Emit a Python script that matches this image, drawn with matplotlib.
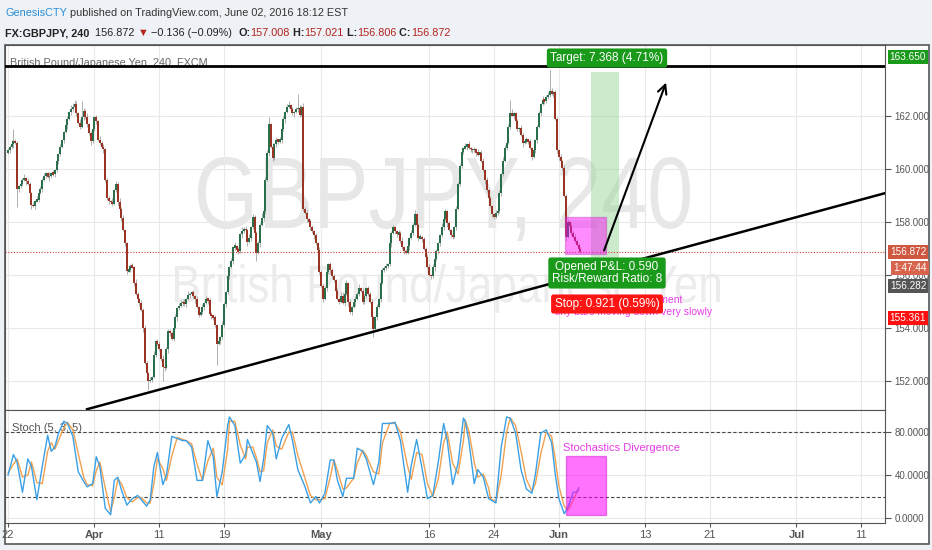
import numpy as np
import matplotlib
matplotlib.use('Agg')
import matplotlib.pyplot as plt
from matplotlib.patches import Rectangle, PathPatch
from matplotlib.textpath import TextPath
from matplotlib.font_manager import FontProperties
from matplotlib.transforms import Affine2D
from matplotlib.ticker import FormatStrFormatter

plt.rcParams['font.family'] = ['Liberation Sans', 'DejaVu Sans']
W, H = 932, 550

# 4h closes, GBPJPY, one row per trading day (Mar 22 .. Jun 2)
open0 = 160.60
close = [
    160.70, 160.85, 160.95, 161.05, 161.00, 159.25,
    159.35, 159.45, 159.60, 159.65, 159.55, 159.45,
    159.10, 158.65, 158.60, 158.80, 158.85, 159.10,
    159.25, 159.60, 159.75, 159.85, 159.70, 159.75,
    159.85, 159.80, 159.95, 160.30, 160.55, 160.85,
    161.10, 161.40, 161.65, 161.90, 162.15, 162.25,
    162.35, 162.45, 162.10, 161.75, 161.60, 161.95,
    162.20, 161.95, 161.70, 161.35, 161.05, 161.50,
    161.95, 161.80, 161.10, 161.00, 160.85, 160.75,
    159.60, 158.90, 158.80, 158.75, 158.70, 159.20,
    159.45, 158.75, 158.50, 158.15, 157.70, 157.20,
    156.15, 156.20, 156.35, 156.30, 155.70, 155.30,
    155.10, 154.95, 154.70, 154.00, 152.70, 152.30,
    152.00, 152.05, 152.15, 153.00, 153.50, 153.40,
    153.20, 152.85, 152.55, 152.50, 153.20, 153.90,
    153.80, 153.60, 154.00, 154.40, 154.75, 154.85,
    154.95, 155.00, 154.90, 155.10, 155.25, 155.30,
    155.35, 155.20, 155.10, 154.80, 154.50, 154.60,
    154.80, 154.95, 155.10, 155.05, 154.55, 154.45,
    154.40, 154.10, 153.40, 153.50, 153.65, 154.10,
    154.90, 155.35, 155.95, 156.30, 156.55, 157.05,
    157.10, 156.95, 156.90, 157.55, 157.65, 157.75,
    157.70, 157.25, 157.40, 157.80, 158.20, 157.60,
    156.85, 157.20, 157.90, 158.15, 158.40, 159.60,
    160.60, 161.70, 160.85, 160.40, 160.95, 161.10,
    161.05, 161.10, 161.50, 161.90, 162.15, 162.35,
    162.40, 162.25, 162.10, 162.15, 162.25, 162.30,
    162.05, 162.35, 158.50, 158.35, 158.10, 158.05,
    157.80, 157.65, 157.50, 157.20, 156.95, 156.10,
    155.60, 155.10, 155.50, 156.10, 156.40, 156.20,
    155.95, 155.80, 155.40, 155.10, 155.00, 155.20,
    154.95, 155.30, 155.70, 155.00, 154.60, 154.80,
    155.00, 155.10, 155.30, 155.50, 155.40, 155.00,
    155.20, 155.50, 155.30, 155.00, 154.40, 153.95,
    154.40, 154.80, 155.10, 155.70, 156.20, 156.25,
    156.35, 156.40, 157.20, 157.60, 157.80, 157.65,
    157.55, 157.60, 157.30, 157.05, 156.90, 156.85,
    157.10, 157.40, 157.60, 157.90, 158.30, 157.90,
    157.40, 157.45, 157.35, 157.00, 156.70, 156.30,
    156.00, 155.95, 156.30, 156.60, 156.90, 157.20,
    157.50, 157.80, 158.10, 158.40, 157.95, 157.70,
    157.50, 157.45, 157.80, 158.50, 159.45, 160.10,
    160.65, 160.80, 160.85, 160.95, 160.80, 160.75,
    160.70, 160.75, 160.60, 160.55, 160.60, 160.30,
    159.95, 159.60, 159.20, 158.90, 158.60, 158.30,
    158.20, 158.35, 158.40, 159.10, 159.80, 160.30,
    160.80, 161.00, 161.60, 162.10, 162.05, 162.10,
    161.80, 161.50, 161.55, 161.30, 161.00, 161.05,
    161.10, 161.05, 160.80, 160.45, 160.70, 161.10,
    161.60, 162.10, 162.45, 162.60, 162.55, 162.70,
    162.80, 162.95, 162.85, 162.90, 161.90, 160.70,
    160.45, 160.30, 160.05, 159.00, 157.45, 158.00,
    157.85, 157.60, 157.45, 157.30, 157.15, 157.00, 156.87,
]
# wick lengths beyond the body, in steps of 0.05
up_wick = ("213221 121312 112132 212113 121212 112213 322131 213122 121312 112131 "
           "213121 121213 112121 121312 213121 121312 212131 121211 212121 121213 "
           "213121 312131 213121 121412 221312 121212 312121 213121 121212 212312 "
           "121213 312121 121312 212121 121212 213121 121312 212131 121212 212121 "
           "131212 121212 213121 121312 212121 121213 212131 121212 212131 121312 "
           "212121 121212 1212111")
dn_wick = ("121312 212131 131212 121213 212121 121312 112121 212131 121213 212121 "
           "131212 212121 121312 312121 121213 212131 121212 213121 121312 212121 "
           "121213 212131 131212 213121 121212 212131 121312 212121 213121 121213 "
           "212121 121312 131212 212131 121212 121312 212121 131213 212121 121312 "
           "212131 121212 121312 212121 131212 212121 121213 212131 121212 212121 "
           "121312 212131 1212121")
spike_hi = {3: 161.50, 37: 162.60, 41: 162.55, 145: 161.95, 161: 162.85, 279: 162.60, 301: 163.72}
spike_lo = {5: 158.55, 78: 151.65, 86: 152.00, 116: 152.60, 138: 156.55, 203: 153.65}

# Stoch (5, 3, 5)
stoch_x = [0, 3, 5, 8, 11, 13, 16, 19, 22, 24, 26, 28, 31, 33, 36, 39, 42, 44, 47, 49,
           51, 54, 57, 59, 61, 63, 66, 69, 72, 74, 77, 79, 81, 83, 86, 88, 91, 94, 97, 99,
           102, 105, 108, 111, 114, 116, 119, 122, 123, 126, 129, 132, 133, 136, 138, 140, 142, 144, 147, 149,
           152, 156, 158, 161, 165, 168, 171, 173, 176, 179, 181, 183, 186, 188, 192, 194, 197, 199, 203, 206,
           208, 212, 215, 218, 222, 224, 227, 230, 233, 236, 239, 242, 244, 247, 250, 253, 254, 256, 259, 261,
           264, 267, 268, 271, 274, 277, 279, 282, 285, 288, 291, 293, 296, 299, 302, 304, 306, 309, 311, 314,
           316, 317]
stoch_k = [40, 59, 52, 24, 55, 48, 17, 48, 77, 62, 66, 79, 90, 88, 76, 43, 34, 29, 32, 57,
           48, 9, 3, 35, 38, 26, 12, 18, 21, 17, 11, 17, 48, 61, 31, 40, 76, 74, 72, 72,
           66, 35, 35, 72, 57, 20, 43, 86, 94, 86, 51, 59, 73, 60, 52, 34, 55, 86, 79, 55,
           74, 87, 72, 45, 29, 14, 20, 14, 23, 54, 54, 35, 20, 37, 37, 65, 62, 55, 31, 52,
           88, 88, 89, 72, 24, 49, 73, 46, 18, 21, 52, 88, 72, 31, 51, 93, 90, 72, 32, 45,
           38, 18, 17, 14, 66, 94, 93, 79, 45, 27, 23, 41, 79, 82, 70, 41, 18, 4, 10, 24,
           24, 28]
stoch_d = [42, 50, 55, 38, 40, 52, 33, 32, 62, 70, 64, 72, 84, 89, 82, 60, 38, 31, 30, 44,
           52, 28, 6, 19, 36, 32, 19, 15, 19, 19, 14, 14, 32, 55, 46, 35, 58, 75, 73, 72,
           69, 50, 35, 53, 65, 38, 31, 64, 90, 90, 68, 55, 66, 66, 56, 43, 44, 70, 82, 67,
           64, 80, 80, 58, 37, 21, 17, 17, 18, 38, 54, 44, 27, 28, 37, 51, 63, 58, 43, 41,
           70, 88, 88, 80, 48, 36, 61, 59, 32, 20, 36, 70, 80, 51, 41, 72, 91, 81, 52, 38,
           41, 28, 18, 15, 40, 80, 93, 86, 62, 36, 25, 32, 60, 80, 76, 55, 30, 11, 7, 17,
           24, 26]

tick_idx = [0, 48, 84, 120, 174, 234, 270, 306, 354, 390, 438, 474]
tick_lab = ['22', 'Apr', '11', '19', 'May', '16', '24', 'Jun', '13', '21', 'Jul', '11']
months = ['Apr', 'May', 'Jun', 'Jul']

# drawings (bar index, price)
resist_y = 163.90
trend = ([43.9, 487.2], [150.94, 159.09])
target = (324, 339.5, 156.282, 163.65)
pink_main = (309.4, 332.2, 156.79, 158.19)
pink_stoch = (310, 332.2, 2.8, 57.7)
arrow_from, arrow_to = (330.6, 156.83), (366.1, 163.36)
last_price = 156.872

fig = plt.figure(figsize=(W / 100, H / 100), dpi=100, facecolor='#eef1f5')
px = Affine2D().scale(1 / W, -1 / H).translate(0, 1) + fig.transFigure


def box(x0, y0, x1, y1):
    return [x0 / W, 1 - y1 / H, (x1 - x0) / W, (y1 - y0) / H]


fig.add_artist(Rectangle((5 / W, 1 - 544 / H), 924 / W, 499 / H, transform=fig.transFigure,
                         fc='white', ec='#555555', lw=1.2, zorder=-5))

ax = fig.add_axes(box(5, 45, 885, 410))
axs = fig.add_axes(box(5, 410, 885, 523), sharex=ax)

# watermark
def watermark(text, x0, y0, x1, y1, color):
    tp = TextPath((0, 0), text, size=100, prop=FontProperties(family='Liberation Sans'))
    bb = tp.get_extents()
    tr = (Affine2D().translate(-bb.x0, -bb.y0).scale((x1 - x0) / bb.width, (y1 - y0) / bb.height)
          .translate(x0, H - y1).scale(1 / W, 1 / H) + fig.transFigure)
    ax.add_patch(PathPatch(tp, transform=tr, fc=color, ec='none', zorder=0.5))


watermark('GBPJPY, 240', 198, 157, 690, 241, '#e7e7e7')
watermark('British Pound/Japanese Yen', 175, 264, 720, 313, '#ececec')

# candles
c = np.array(close)
n = len(c)
idx = np.arange(n)
o = np.r_[open0, c[:-1]]
uw = np.array([int(ch) for ch in up_wick if ch != ' ']) * 0.05
dw = np.array([int(ch) for ch in dn_wick if ch != ' ']) * 0.05
hi = np.maximum(o, c) + uw
lo = np.minimum(o, c) - dw
for k, v in spike_hi.items():
    hi[k] = v
for k, v in spike_lo.items():
    lo[k] = v
ax.vlines(idx, lo, hi, color='#a2a2a2', lw=0.6, zorder=2)
top = np.maximum(o, c)
bot = np.minimum(o, c)
small = (top - bot) < 0.05
top[small] += 0.03
bot[small] -= 0.03
up = c >= o
ax.vlines(idx[up], bot[up], top[up], color='#2a6e4b', lw=1.45, zorder=3)
ax.vlines(idx[~up], bot[~up], top[~up], color='#9a3526', lw=1.45, zorder=3)

ax.axhline(last_price, color='#d0442c', lw=0.8, ls=(0, (1, 1.5)), zorder=4)
ax.axhline(resist_y, color='black', lw=2, zorder=5)
ax.plot(trend[0], trend[1], color='black', lw=1.8, zorder=5)

tx0, tx1, ty0, ty1 = target
ax.add_patch(Rectangle((tx0, ty0), tx1 - tx0, ty1 - ty0, fc='#9bd89b', alpha=0.5, ec='none', zorder=1))
mx0, mx1, my0, my1 = pink_main
ax.add_patch(Rectangle((mx0, my0), mx1 - mx0, my1 - my0, fc='#ff00ff', alpha=0.45,
                       ec='#c040c0', lw=1, zorder=4))
ax.annotate('', xy=arrow_to, xytext=arrow_from,
            arrowprops=dict(arrowstyle='->', lw=1.5, color='black', mutation_scale=16), zorder=6)

ax.text(10, 63, 'British Pound/Japanese Yen, 240, FXCM', transform=px, fontsize=7.8,
        color='#666666', va='center', zorder=4)
ax.text(555, 300, 'Slight downward movement', transform=px, fontsize=7.5, color='#e83de8',
        va='center', zorder=7, clip_on=False)
ax.text(555, 312, 'tiny bars moving down very slowly', transform=px, fontsize=7.5, color='#e83de8',
        va='center', zorder=7, clip_on=False)
ax.text(607, 58, 'Target: 7.368 (4.71%)', transform=px, fontsize=8.5, color='white',
        ha='center', va='center', zorder=9,
        bbox=dict(boxstyle='round,pad=0.3,rounding_size=0.2', fc='#1a9a1a', ec='none'))
ax.text(607, 273, 'Opened P&L: 0.590\nRisk/Reward Ratio: 8', transform=px, fontsize=8.5,
        color='white', ha='center', va='center', multialignment='center', linespacing=1.0, zorder=9,
        bbox=dict(boxstyle='round,pad=0.3,rounding_size=0.2', fc='#1a9a1a', ec='none'))
ax.text(607, 304, 'Stop: 0.921 (0.59%)', transform=px, fontsize=8.5, color='white',
        ha='center', va='center', zorder=9,
        bbox=dict(boxstyle='round,pad=0.3,rounding_size=0.2', fc='#ff1414', ec='none'))

ax.set_xlim(-1.7, 487.2)
ax.set_ylim(150.91, 164.68)
ax.yaxis.tick_right()
ax.set_yticks([152, 154, 156, 158, 160, 162])
ax.yaxis.set_major_formatter(FormatStrFormatter('%.3f'))
ax.tick_params(axis='y', labelsize=7, colors='#555555', length=4, pad=3)
ax.set_xticks(tick_idx)
ax.tick_params(axis='x', length=0, labelbottom=False)
ax.grid(True, color='#e9e9e9', lw=0.8)
ax.set_axisbelow(True)
for s in ax.spines.values():
    s.set_color('#555555')

# price axis tags
def tag(y, text, color, x=908):
    fig.text(x / W, 1 - y / H, text, fontsize=7.2, color='white', ha='center', va='center',
             bbox=dict(boxstyle='square,pad=0.2', fc=color, ec='none'))


tag(57, '163.650', '#1a9a1a')
tag(252, '156.872', '#cf563f')
tag(268, '1:47:44', '#d9644d', x=910)
tag(286, '156.282', '#555555')
tag(318, '155.361', '#ff1010')

# stochastic panel
axs.plot(stoch_x, stoch_d, color='#f0a150', lw=1.0, zorder=3)
axs.plot(stoch_x, stoch_k, color='#3aa0e6', lw=1.0, zorder=4)
axs.axhline(80, color='#444444', lw=0.8, ls=(0, (3, 2)), zorder=2)
axs.axhline(20, color='#444444', lw=0.8, ls=(0, (3, 2)), zorder=2)
sx0, sx1, sy0, sy1 = pink_stoch
axs.add_patch(Rectangle((sx0, sy0), sx1 - sx0, sy1 - sy0, fc='#ff00ff', alpha=0.55,
                        ec='#d020d0', lw=1, zorder=5))
axs.text(563, 448, 'Stochastics Divergence', transform=px, fontsize=8, color='#e83de8',
         va='center', zorder=6)
axs.text(12, 428, 'Stoch (5, 3, 5)', transform=px, fontsize=8, color='#555555', va='center', zorder=1)
axs.set_ylim(-4.65, 100.5)
axs.yaxis.tick_right()
axs.set_yticks([0, 40, 80])
axs.yaxis.set_major_formatter(FormatStrFormatter('%.4f'))
axs.tick_params(axis='y', labelsize=7, colors='#555555', length=4, pad=3)
axs.set_xticks(tick_idx)
axs.set_xticklabels(tick_lab)
axs.tick_params(axis='x', labelsize=8, colors='#555555', length=3, pad=2)
for lbl in axs.get_xticklabels():
    if lbl.get_text() in months:
        lbl.set_fontweight('bold')
axs.grid(True, color='#e9e9e9', lw=0.8)
axs.set_axisbelow(True)
for s in axs.spines.values():
    s.set_color('#555555')

# header lines
renderer = fig.canvas.get_renderer()


def run(x, y, pieces, size=7.8):
    for text, color, weight in pieces:
        t = fig.text(x / W, 1 - y / H, text, fontsize=size, color=color, fontweight=weight,
                     va='baseline', ha='left')
        x += t.get_window_extent(renderer).width


red = '#b3261e'
run(5, 16, [('GenesisCTY', '#2a8fd6', 'normal'),
            (' published on TradingView.com, June 02, 2016 18:12 EST', '#333333', 'normal')])
run(5, 36, [('FX:GBPJPY, 240', '#222222', 'bold'), ('  156.872 ', '#222222', 'normal'),
            ('\u25bc', red, 'normal'), (' \u22120.136 (\u22120.09%)  ', '#222222', 'normal'),
            ('O:', '#222222', 'bold'), ('157.008', red, 'normal'),
            (' H:', '#222222', 'bold'), ('157.021', red, 'normal'),
            (' L:', '#222222', 'bold'), ('156.806', red, 'normal'),
            (' C:', '#222222', 'bold'), ('156.872', red, 'normal')])

fig.savefig('out.png', dpi=100, facecolor=fig.get_facecolor())
